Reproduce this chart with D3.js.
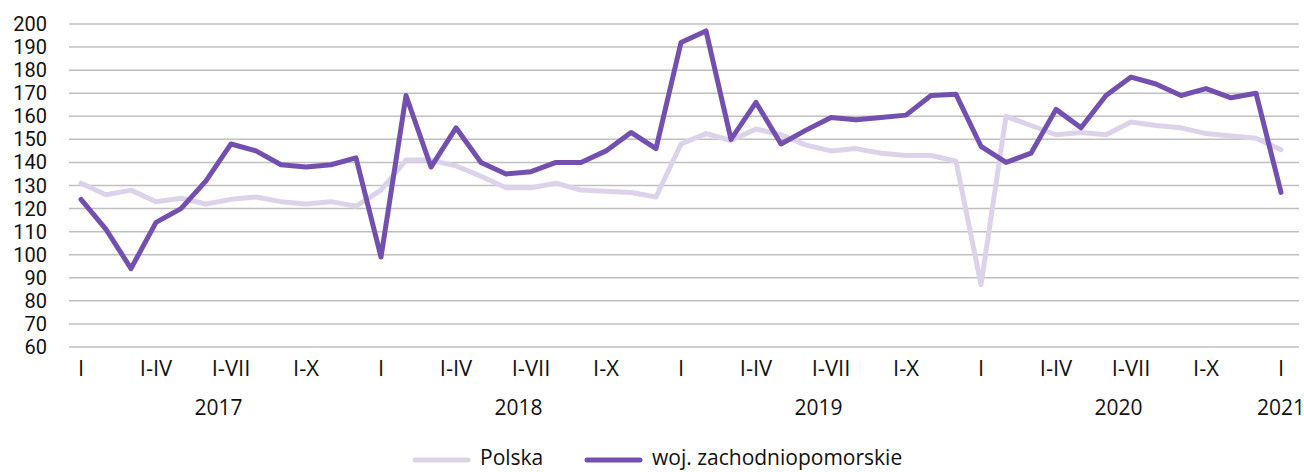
<!DOCTYPE html>
<html>
<head>
<meta charset="utf-8">
<script src="https://cdn.jsdelivr.net/npm/d3@7"></script>
<style>
  body { margin: 0; background: #fff; }
  svg { display: block; font-family: "Open Sans", "Noto Sans", sans-serif; }
</style>
</head>
<body>
<svg id="chart" width="1304" height="472"></svg>
<script>
// months I 2017 .. I 2021
const years = [2017, 2018, 2019, 2020, 2021];
const monthLabels = { 0: 'I', 3: 'I-IV', 6: 'I-VII', 9: 'I-X' };
const yTicks = [60, 70, 80, 90, 100, 110, 120, 130, 140, 150, 160, 170, 180, 190, 200];

const polska = [
  131, 126, 128, 123, 124.5, 122, 124, 125, 123, 122, 123, 121,
  128, 141, 141, 138.5, 134, 129, 129, 131, 128, 127.5, 127, 125,
  148, 152.5, 149.5, 154.5, 152, 147.5, 145, 146, 144, 143, 143, 140.5,
  87, 160, 156, 152, 153, 152, 157.5, 156, 155, 152.5, 151.5, 150.5,
  145.5
];
const zachodniopomorskie = [
  124, 111, 94, 114, 120, 132, 148, 145, 139, 138, 139, 142,
  99, 169, 138, 155, 140, 135, 136, 140, 140, 145, 153, 146,
  192, 197, 150, 166, 148, 154, 159.5, 158.5, 159.5, 160.5, 169, 169.5,
  147, 140, 144, 163, 155, 169, 177, 174, 169, 172, 168, 170,
  127
];
const seriesNames = ['Polska', 'woj. zachodniopomorskie'];
const colors = ['#dcd3ea', '#7350b0'];

const svg = d3.select('#chart');
const gridLeft = 69, gridRight = 1299;
const fontSize = 22;

const idx = d3.range(polska.length);
const x = d3.scalePoint().domain(idx).range([81, 1281]);
const y = d3.scaleLinear().domain([60, 200]).range([347, 24]);

// gridlines
svg.append('g')
  .selectAll('line')
  .data(yTicks)
  .join('line')
  .attr('x1', gridLeft)
  .attr('x2', gridRight)
  .attr('y1', d => y(d))
  .attr('y2', d => y(d))
  .attr('stroke', '#c0c0c0')
  .attr('stroke-width', 1.5);

// y labels (tight spacing, compact font)
svg.append('g')
  .selectAll('text')
  .data(yTicks)
  .join('text')
  .attr('x', 47)
  .attr('y', d => y(d))
  .attr('dy', '0.35em')
  .attr('text-anchor', 'end')
  .attr('font-family', 'Roboto, sans-serif')
  .attr('font-size', 20)
  .attr('fill', '#111')
  .text(d => d);

// month labels
svg.append('g')
  .selectAll('text')
  .data(idx.filter(i => monthLabels[i % 12] !== undefined))
  .join('text')
  .attr('x', d => x(d))
  .attr('y', 368)
  .attr('dy', '0.35em')
  .attr('text-anchor', 'middle')
  .attr('font-size', fontSize)
  .attr('fill', '#111')
  .text(d => monthLabels[d % 12]);

// year labels
svg.append('g')
  .selectAll('text')
  .data(years)
  .join('text')
  .attr('x', (d, i) => {
    const first = i * 12;
    const last = Math.min(first + 11, idx.length - 1);
    return (x(first) + x(last)) / 2;
  })
  .attr('y', 408)
  .attr('dy', '0.35em')
  .attr('text-anchor', 'middle')
  .attr('font-size', 21)
  .attr('fill', '#111')
  .text(d => d);

const line = d3.line()
  .x((d, i) => x(i))
  .y(d => y(d));

[polska, zachodniopomorskie].forEach((s, k) => {
  svg.append('path')
    .datum(s)
    .attr('fill', 'none')
    .attr('stroke', colors[k])
    .attr('stroke-width', 5)
    .attr('stroke-linejoin', 'round')
    .attr('stroke-linecap', 'round')
    .attr('d', line);
});

// legend
const legend = svg.append('g');
const legendX = [413, 585];
seriesNames.forEach((name, k) => {
  legend.append('line')
    .attr('x1', legendX[k] + 2)
    .attr('x2', legendX[k] + 55)
    .attr('y1', 460)
    .attr('y2', 460)
    .attr('stroke', colors[k])
    .attr('stroke-width', 5)
    .attr('stroke-linecap', 'round');
  legend.append('text')
    .attr('x', legendX[k] + 67)
    .attr('y', 465)
    .attr('font-size', 21)
    .attr('fill', '#111')
    .text(name);
});
</script>
</body>
</html>
